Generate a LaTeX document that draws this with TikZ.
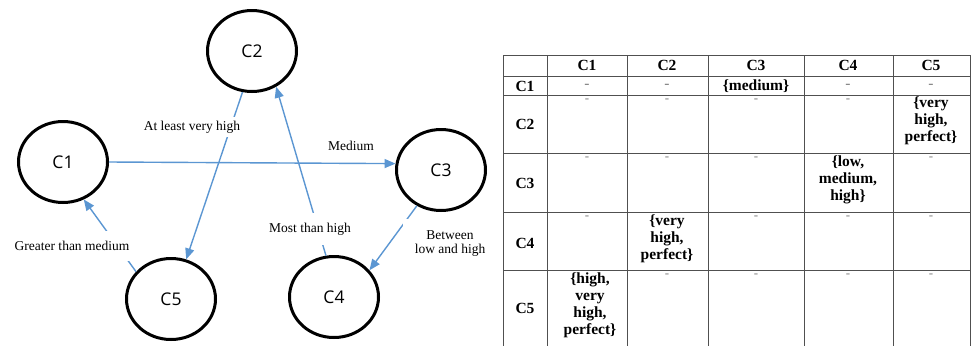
\documentclass[tikz,border=0pt]{standalone}
\usepackage{fontspec}
\setmainfont{Liberation Serif}
\newfontfamily\circfont{Open Sans}
\usetikzlibrary{shapes.geometric,arrows.meta}
\definecolor{edgeblue}{RGB}{91,150,210}
\definecolor{gridgray}{RGB}{80,80,80}
\tikzset{
  cnode/.style={ellipse,draw=black,line width=3pt,minimum width=89pt,minimum height=81pt,inner sep=0pt,font=\circfont\fontsize{17.5}{20}\selectfont},
  rel/.style={draw=edgeblue,line width=1.4pt,-{Triangle[length=11pt,width=9pt]}},
  elabel/.style={fill=white,inner sep=0pt,font=\fontsize{13.5}{15}\selectfont,align=center},
  tcell/.style={anchor=north,inner sep=0pt,font=\bfseries\fontsize{15.5}{17}\selectfont,align=center},
  thead/.style={inner sep=0pt,font=\bfseries\fontsize{15.5}{17}\selectfont},
  tdash/.style={anchor=north,inner sep=0pt,text=gray,font=\fontsize{13}{15}\selectfont},
  grid/.style={draw=gridgray,line width=1pt}
}
\begin{document}
\begin{tikzpicture}[x=1pt,y=-1pt]
\useasboundingbox (0,0) rectangle (971,346);
% circles
\node[cnode] (C1) at (63,162) {C1};
\node[cnode] (C2) at (252,51) {C2};
\node[cnode] (C3) at (441,170) {C3};
\node[cnode] (C4) at (334,297) {C4};
\node[cnode] (C5) at (171,299) {C5};
% connectors
\draw[rel] (C1.0) -- (C3.172);
\draw[rel] (C2.-103) -- (C5.69);
\draw[rel] (C4.101) -- (C2.-56);
\draw[rel] (C3.-124) -- (C4.37);
\draw[rel] (C5.142) -- (C1.-61);
% edge labels
\node[elabel,inner ysep=4pt] (l25) at (192,127) {At least very high};
\node[elabel] (l13) at (351,146) {Medium};
\node[elabel,inner ysep=10pt,inner xsep=3pt] (l42) at (310,229) {Most than high};
\node[elabel,inner xsep=12pt,inner ysep=12pt] (l34) at (450,244) {Between\\[-1pt]low and high};
\node[elabel,inner ysep=10pt,inner xsep=3pt] (l51) at (72,246) {Greater than medium};
% table grid
\draw[grid] (503,55) -- (970,55);
\draw[grid] (503,76) -- (970,76);
\draw[grid] (503,95) -- (970,95);
\draw[grid] (503,153) -- (970,153);
\draw[grid] (503,212) -- (970,212);
\draw[grid] (503,270) -- (970,270);
\foreach \x in {503,547,627,708,804,893,970} \draw[grid] (\x,55) -- (\x,346);
% header
\node[thead] (h1) at (587,65) {C1};
\node[thead] (h2) at (667,65) {C2};
\node[thead] (h3) at (756,65) {C3};
\node[thead] (h4) at (848,65) {C4};
\node[thead] (h5) at (931,65) {C5};
\node[thead] (r1) at (525,86) {C1};
\node[thead] (r2) at (525,124) {C2};
\node[thead] (r3) at (525,183) {C3};
\node[thead] (r4) at (525,243) {C4};
\node[thead] (r5) at (525,308) {C5};
% row C1
\node[thead] (c11) at (587,86) {\mdseries\color{gray}-};
\node[thead] (c12) at (667,86) {\mdseries\color{gray}-};
\node[thead] (c13) at (756,86) {\{medium\}};
\node[thead] (c14) at (848,86) {\mdseries\color{gray}-};
\node[thead] (c15) at (931,86) {\mdseries\color{gray}-};
% row C2
\node[tdash] (c21) at (587,99) {-};
\node[tdash] (c22) at (667,99) {-};
\node[tdash] (c23) at (756,99) {-};
\node[tdash] (c24) at (848,99) {-};
\node[tcell] (c25) at (931,97) {\{very\\high,\\perfect\}};
% row C3
\node[tdash] (c31) at (587,157) {-};
\node[tdash] (c32) at (667,157) {-};
\node[tdash] (c33) at (756,157) {-};
\node[tcell] (c34) at (848,156) {\{low,\\medium,\\high\}};
\node[tdash] (c35) at (931,157) {-};
% row C4
\node[tdash] (c41) at (587,216) {-};
\node[tcell] (c42) at (667,215) {\{very\\high,\\perfect\}};
\node[tdash] (c43) at (756,216) {-};
\node[tdash] (c44) at (848,216) {-};
\node[tdash] (c45) at (931,216) {-};
% row C5
\node[tcell] (c51) at (590,273) {\{high,\\very\\high,\\perfect\}};
\node[tdash] (c52) at (667,274) {-};
\node[tdash] (c53) at (756,274) {-};
\node[tdash] (c54) at (848,274) {-};
\node[tdash] (c55) at (931,274) {-};
\end{tikzpicture}
\end{document}
